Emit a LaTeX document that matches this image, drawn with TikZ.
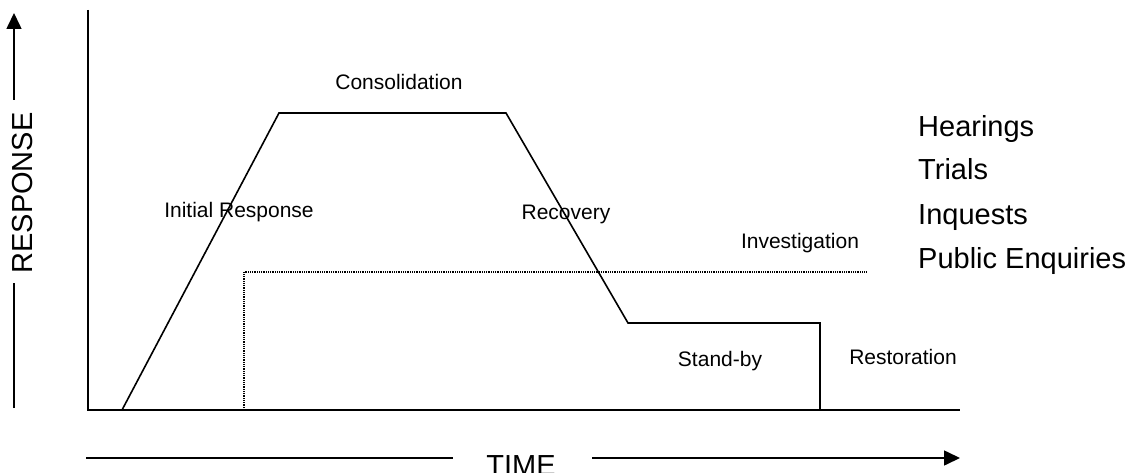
\documentclass[tikz,border=0pt]{standalone}
\usepackage{fontspec}
\setmainfont{Liberation Sans}
\usetikzlibrary{arrows.meta}
\newcommand{\bigtxt}{\fontsize{29}{35}\selectfont}
\newcommand{\smalltxt}{\fontsize{21}{25}\selectfont}
\begin{document}
\begin{tikzpicture}[x=1pt, y=-1pt,
    axisline/.style={line width=1.6pt},
    phase/.style={line width=1.6pt, line join=miter},
    investline/.style={line width=1.4pt, dash pattern=on 1pt off 0.8pt},
    bigarrow/.style={line width=1.6pt, -{Triangle[length=16pt, width=15pt]}},
    phaselabel/.style={font=\smalltxt, inner sep=0pt},
    sidelabel/.style={font=\bigtxt, inner sep=0pt, anchor=base west}]
  \useasboundingbox (0,0) rectangle (1129,473);
  % axes
  \coordinate (ytop) at (88,10);
  \coordinate (origin) at (88,410);
  \coordinate (xend) at (960,410);
  \draw[axisline] (ytop) -- (origin) -- (xend);
  % response arrow
  \node[font=\bigtxt, rotate=90, inner sep=0pt] (resp) at (23,193) {RESPONSE};
  \coordinate (respbot) at (14,408);
  \coordinate (respgapa) at (14,283);
  \coordinate (respgapb) at (14,100);
  \coordinate (resptop) at (14,13);
  \draw[axisline] (respbot) -- (respgapa);
  \draw[bigarrow] (respgapb) -- (resptop);
  % time arrow
  \node[font=\bigtxt, anchor=base, inner sep=0pt] (time) at (521,475) {TIME};
  \coordinate (timel) at (86,458);
  \coordinate (timegapa) at (453,458);
  \coordinate (timegapb) at (592,458);
  \coordinate (timer) at (960,458);
  \draw[axisline] (timel) -- (timegapa);
  \draw[bigarrow] (timegapb) -- (timer);
  % response phases
  \coordinate (p0) at (122,410);
  \coordinate (p1) at (279,113);
  \coordinate (p2) at (506,113);
  \coordinate (p3) at (628,323);
  \coordinate (p4) at (820,323);
  \coordinate (p5) at (820,410);
  \draw[phase] (p0) -- (p1) -- (p2) -- (p3) -- (p4) -- (p5);
  % investigation
  \coordinate (i0) at (244,410);
  \coordinate (i1) at (244,272);
  \coordinate (i2) at (866,272);
  \draw[investline] (i0) -- (i1) -- (i2);
  % phase labels
  \node[phaselabel] (consol) at (399,82) {Consolidation};
  \node[phaselabel] (initial) at (239,212) {Initial Response};
  \node[phaselabel] (recov) at (566,214) {Recovery};
  \node[phaselabel] (invest) at (800,243) {Investigation};
  \node[phaselabel] (standby) at (720,361) {Stand-by};
  \node[phaselabel] (restor) at (903,357) {Restoration};
  % follow-on processes
  \node[sidelabel] (hear) at (918,137) {Hearings};
  \node[sidelabel] (trial) at (918,179) {Trials};
  \node[sidelabel] (inq) at (918,224) {Inquests};
  \node[sidelabel] (pubenq) at (918,268) {Public Enquiries};
\end{tikzpicture}
\end{document}
